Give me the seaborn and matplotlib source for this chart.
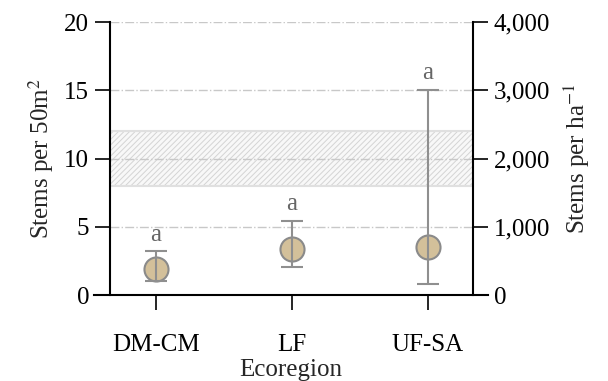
import matplotlib
matplotlib.use("Agg")
import matplotlib.pyplot as plt
import seaborn as sns
import pandas as pd

# Stem density per ecoregion (mean with lower/upper bounds), stems per 50 m^2
ecoregions = ["DM-CM", "LF", "UF-SA"]
means = [1.88, 3.35, 3.49]
lower = [1.03, 2.07, 0.78]
upper = [3.22, 5.42, 15.02]
letters = ["a", "a", "a"]

# Reference density band (stems per 50 m^2)
band_low, band_high = 8, 12

left_ticks = [0, 5, 10, 15, 20]
right_ticks = [0, 1000, 2000, 3000, 4000]

sns.set_theme(style="white")
plt.rcParams["font.family"] = ["Liberation Serif", "DejaVu Serif"]
plt.rcParams["mathtext.fontset"] = "stix"
plt.rcParams["hatch.linewidth"] = 0.7
plt.rcParams["xtick.labelsize"] = 18
plt.rcParams["ytick.labelsize"] = 18

df = pd.DataFrame({"Ecoregion": ecoregions, "mean": means,
                   "lower": lower, "upper": upper})

fig = plt.figure(figsize=(6.08, 3.81), dpi=100)
ax = fig.add_axes([0.1546, 0.2257, 0.6480, 0.7165])

xl, xr = -0.338, 2.331  # positions of the left and right y spines
ax.set_xlim(-0.455, 2.442)
ax.set_ylim(0, 20)

# grid lines and band between the two y spines
ax.hlines([5, 10, 15, 20], xl, xr, colors="#c8c8c8", linestyles="-.",
          linewidth=1.0, zorder=1)
ax.fill_between([xl, xr], band_low, band_high, facecolor="#f8f8f8",
                edgecolor="#d4d4d4", hatch="//////", linewidth=0, zorder=0.5)
ax.hlines([band_low, band_high], xl, xr, colors="#e0e0e0", linewidth=1.5, zorder=0.6)

xpos = list(range(len(ecoregions)))
err_lo = [m - l for m, l in zip(means, lower)]
err_hi = [u - m for m, u in zip(means, upper)]
ax.errorbar(xpos, means, yerr=[err_lo, err_hi], fmt="none", ecolor="#8f8f8f",
            elinewidth=1.5, capsize=8, capthick=1.5, zorder=3)
sns.scatterplot(data=df, x="Ecoregion", y="mean", ax=ax, s=300,
                color="#d3c09a", edgecolor="#8a8a8a", linewidth=1.5, zorder=2,
                legend=False)

for x, u, t in zip(xpos, upper, letters):
    ax.annotate(t, (x, u), xytext=(0, 4), textcoords="offset points",
                ha="center", va="bottom", fontsize=18, color="#666666",
                annotation_clip=False)

for s in ["top", "right"]:
    ax.spines[s].set_visible(False)
for s in ["left", "bottom"]:
    ax.spines[s].set_color("black")
    ax.spines[s].set_linewidth(1.5)
ax.spines["left"].set_position(("data", xl))
ax.tick_params(axis="both", which="both", direction="out", length=11,
               width=1.2, color="black", labelcolor="black", labelsize=18,
               pad=4, bottom=True, left=True)
ax.tick_params(axis="x", pad=17)

ax.set_xticks(xpos)
ax.set_xticklabels(ecoregions)
ax.set_yticks(left_ticks)
ax.set_yticklabels([str(v) for v in left_ticks])
ax.set_xlabel("Ecoregion", fontsize=18, labelpad=2)
ax.set_ylabel("Stems per 50m$^{2}$", fontsize=18, labelpad=6)

ax2 = ax.twinx()
ax2.set_ylim(0, 4000)
for s in ["top", "left", "bottom"]:
    ax2.spines[s].set_visible(False)
ax2.spines["right"].set_position(("data", xr))
ax2.spines["right"].set_color("black")
ax2.spines["right"].set_linewidth(1.5)
ax2.tick_params(axis="y", direction="out", length=11, width=1.2,
                color="black", labelcolor="black", labelsize=18, pad=4,
                right=True)
ax2.set_yticks(right_ticks)
ax2.set_yticklabels([f"{v:,}" for v in right_ticks])
ax2.set_ylabel("Stems per ha$^{-1}$", fontsize=18, labelpad=8)

fig.savefig("out.png", dpi=100)
